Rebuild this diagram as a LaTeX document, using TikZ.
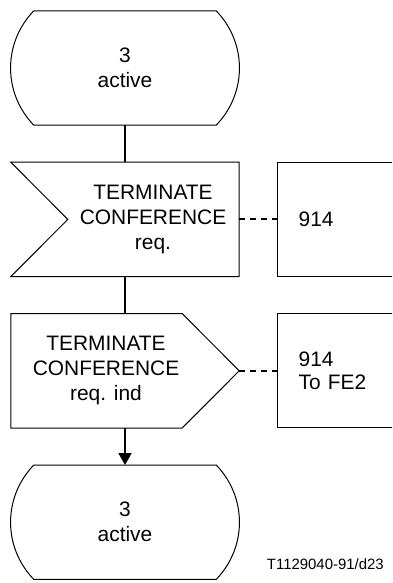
\documentclass[tikz,border=0pt]{standalone}
\usepackage{fontspec}
\setmainfont{Liberation Sans}
\usetikzlibrary{positioning, arrows.meta}

\begin{document}
\begin{tikzpicture}[x=1bp,y=-1bp,node distance=37bp,
                    box/.style={rectangle,minimum width=228bp,minimum height=114bp,inner sep=0pt},
                    words/.style={align=center,inner sep=0pt,font=\fontsize{21}{25}\selectfont},
                    note/.style={rectangle,draw,line width=1bp,minimum height=114bp,text width=109bp,
                                 inner xsep=21bp,align=left,font=\fontsize{21}{24}\selectfont},
                    outline/.style={draw=black,line width=1bp},
                    link/.style={line width=2bp},
                    comment/.style={line width=2bp,dash pattern=on 6bp off 5bp}]

  \useasboundingbox (0,0) rectangle (392,583);
  \clip (0,0) rectangle (392,583);

%SYMBOLS
  \node[box] (S1) at (125,68) {};
  \node[words] (S1Text) at (S1) {3\\active};
  \node[box] (In) [below=of S1] {};
  \node[words] (InText) [shift={(28,0)}] at (In) {TERMINATE\\CONFERENCE\\req.};
  \node[box] (Out) [below=of In] {};
  \node[words] (OutText) [shift={(-19,0)}] at (Out) {TERMINATE\\CONFERENCE\\req. ind};
  \node[box] (S2) [below=of Out] {};
  \node[words] (S2Text) at (S2) {3\\active};

%OUTLINES
  \draw[outline] ([xshift=23bp]S1.north west)--([xshift=-23bp]S1.north east)
  to[bend left=44] ([xshift=-23bp]S1.south east)--([xshift=23bp]S1.south west)
  to[bend left=44] ([xshift=23bp]S1.north west);

  \draw[outline] (In.north west)--(In.north east)--(In.south east)
  --(In.south west)--([xshift=57bp]In.west)--cycle;

  \draw[outline] (Out.north west)--([xshift=-57bp]Out.north east)--(Out.east)
  --([xshift=-57bp]Out.south east)--(Out.south west)--cycle;

  \draw[outline] ([xshift=23bp]S2.north west)--([xshift=-23bp]S2.north east)
  to[bend left=44] ([xshift=-23bp]S2.south east)--([xshift=23bp]S2.south west)
  to[bend left=44] ([xshift=23bp]S2.north west);

%COMMENT BOXES
  \node[note] (N1) [right=38bp of In] {914};
  \node[note] (N2) [right=38bp of Out] {914\\To FE2};

  \draw[comment] (In.east)--(N1.west);
  \draw[comment] (Out.east)--(N2.west);

%FLOW LINES
  \draw[link] (S1.south)--(In.north);
  \draw[link] (In.south)--(Out.north);
  \draw[link,-{Triangle[length=12bp,width=13bp]}] (Out.south)--(S2.north);

  \node[anchor=east,inner sep=0pt,font=\fontsize{15}{18}\selectfont] (Ref) at (384,564) {T1129040-91/d23};

\end{tikzpicture}
\end{document}
